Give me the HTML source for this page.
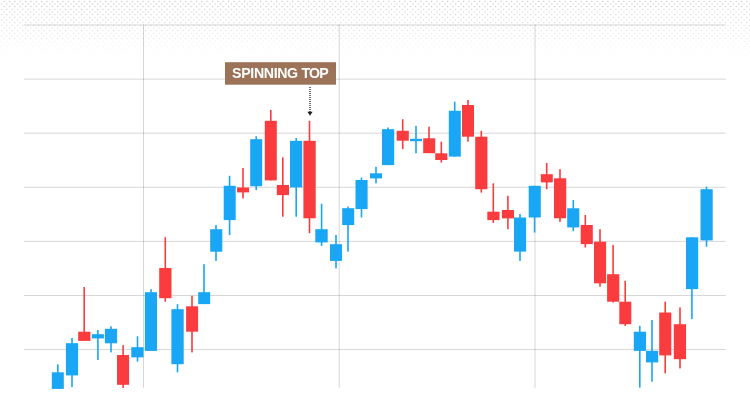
<!DOCTYPE html>
<html lang="en"><head><meta charset="utf-8"><title>Spinning Top</title>
<style>
html,body{margin:0;padding:0;background:#fff;}
body{width:750px;height:414px;overflow:hidden;position:relative;}
svg{position:absolute;left:0;top:0;display:block;}
.lbl{font-family:"Liberation Sans",sans-serif;font-weight:bold;font-size:14.2px;fill:#fff;letter-spacing:-0.27px;}
</style></head><body>
<svg width="750" height="414" viewBox="0 0 750 414">
<defs>
<pattern id="dots" x="0" y="0" width="5.343" height="5.343" patternUnits="userSpaceOnUse">
<circle cx="4.2" cy="1.35" r="0.62" fill="#b4b4b4"/>
<circle cx="1.53" cy="4.02" r="0.62" fill="#b4b4b4"/>
</pattern>
<linearGradient id="fade" x1="0" y1="0" x2="0" y2="1">
<stop offset="0" stop-color="#fff" stop-opacity="1"/>
<stop offset="1" stop-color="#fff" stop-opacity="0"/>
</linearGradient>
<mask id="m"><rect x="0" y="0" width="750" height="57" fill="url(#fade)"/></mask>
</defs>
<rect x="0" y="0" width="750" height="62" fill="url(#dots)" mask="url(#m)"/>

<g fill="#000" fill-opacity="0.16">
<rect x="24" y="24.50" width="701.8" height="1"/>
<rect x="24" y="78.59" width="701.8" height="1"/>
<rect x="24" y="132.68" width="701.8" height="1"/>
<rect x="24" y="186.77" width="701.8" height="1"/>
<rect x="24" y="240.86" width="701.8" height="1"/>
<rect x="24" y="294.95" width="701.8" height="1"/>
<rect x="24" y="349.04" width="701.8" height="1"/>
<rect x="143.00" y="24.5" width="1" height="363.2"/>
<rect x="338.70" y="24.5" width="1" height="363.2"/>
<rect x="534.50" y="24.5" width="1" height="363.2"/>
</g>
<g fill="#18a6f5"><rect x="57.00" y="364.30" width="1.60" height="24.60"/><rect x="51.80" y="372.30" width="12.00" height="16.60"/></g>
<g fill="#18a6f5"><rect x="71.20" y="338.00" width="1.60" height="49.10"/><rect x="65.90" y="343.20" width="12.20" height="32.20"/></g>
<g fill="#fa3c3e"><rect x="83.40" y="287.00" width="1.60" height="53.40"/><rect x="78.20" y="331.70" width="12.20" height="9.20"/></g>
<g fill="#18a6f5"><rect x="97.10" y="330.00" width="1.60" height="30.00"/><rect x="91.80" y="334.20" width="12.10" height="4.20"/></g>
<g fill="#18a6f5"><rect x="110.20" y="326.30" width="1.60" height="26.10"/><rect x="104.90" y="328.80" width="12.20" height="14.50"/></g>
<g fill="#fa3c3e"><rect x="122.30" y="345.20" width="1.60" height="42.80"/><rect x="117.00" y="355.00" width="12.10" height="29.80"/></g>
<g fill="#18a6f5"><rect x="136.70" y="336.30" width="1.60" height="25.40"/><rect x="131.30" y="347.20" width="12.20" height="10.20"/></g>
<g fill="#18a6f5"><rect x="150.20" y="289.20" width="1.60" height="61.20"/><rect x="144.90" y="292.20" width="12.10" height="58.70"/></g>
<g fill="#fa3c3e"><rect x="164.50" y="237.20" width="1.60" height="64.50"/><rect x="159.20" y="268.00" width="12.30" height="30.20"/></g>
<g fill="#18a6f5"><rect x="176.70" y="304.20" width="1.60" height="68.20"/><rect x="171.40" y="309.20" width="12.30" height="55.00"/></g>
<g fill="#fa3c3e"><rect x="191.20" y="295.80" width="1.60" height="56.60"/><rect x="186.10" y="306.30" width="12.00" height="25.40"/></g>
<g fill="#18a6f5"><rect x="203.20" y="264.20" width="1.60" height="39.20"/><rect x="198.20" y="292.20" width="12.00" height="11.90"/></g>
<g fill="#18a6f5"><rect x="215.20" y="225.00" width="1.60" height="35.90"/><rect x="210.20" y="229.20" width="12.10" height="22.50"/></g>
<g fill="#18a6f5"><rect x="228.80" y="175.80" width="1.60" height="59.30"/><rect x="223.70" y="185.80" width="12.00" height="34.30"/></g>
<g fill="#fa3c3e"><rect x="242.20" y="168.00" width="1.60" height="30.40"/><rect x="237.00" y="187.50" width="12.00" height="4.90"/></g>
<g fill="#18a6f5"><rect x="255.40" y="136.30" width="1.60" height="53.80"/><rect x="250.20" y="139.20" width="12.00" height="47.00"/></g>
<g fill="#fa3c3e"><rect x="270.00" y="110.00" width="1.60" height="70.40"/><rect x="264.80" y="120.80" width="12.00" height="59.60"/></g>
<g fill="#fa3c3e"><rect x="282.00" y="157.30" width="1.60" height="59.40"/><rect x="276.80" y="185.00" width="12.20" height="10.10"/></g>
<g fill="#18a6f5"><rect x="295.40" y="138.00" width="1.60" height="78.70"/><rect x="290.00" y="140.80" width="12.20" height="46.60"/></g>
<g fill="#fa3c3e"><rect x="308.70" y="120.80" width="1.60" height="112.40"/><rect x="303.40" y="140.80" width="12.30" height="77.50"/></g>
<g fill="#18a6f5"><rect x="320.80" y="203.80" width="1.60" height="42.10"/><rect x="315.30" y="229.20" width="12.40" height="13.20"/></g>
<g fill="#18a6f5"><rect x="335.20" y="235.00" width="1.60" height="33.40"/><rect x="330.00" y="244.20" width="12.00" height="16.70"/></g>
<g fill="#18a6f5"><rect x="347.20" y="206.50" width="1.60" height="45.20"/><rect x="342.20" y="208.20" width="12.00" height="16.90"/></g>
<g fill="#18a6f5"><rect x="360.70" y="177.50" width="1.60" height="40.00"/><rect x="355.50" y="180.00" width="12.10" height="29.10"/></g>
<g fill="#18a6f5"><rect x="375.20" y="166.70" width="1.60" height="16.70"/><rect x="370.00" y="173.30" width="12.00" height="5.10"/></g>
<g fill="#18a6f5"><rect x="387.20" y="127.50" width="1.60" height="36.90"/><rect x="382.00" y="129.20" width="12.20" height="35.90"/></g>
<g fill="#fa3c3e"><rect x="401.90" y="119.20" width="1.60" height="29.90"/><rect x="396.70" y="130.80" width="12.10" height="9.90"/></g>
<g fill="#18a6f5"><rect x="415.20" y="125.80" width="1.60" height="27.60"/><rect x="410.00" y="138.80" width="12.00" height="2.40"/></g>
<g fill="#fa3c3e"><rect x="428.20" y="126.70" width="1.60" height="25.70"/><rect x="423.20" y="138.30" width="12.00" height="14.90"/></g>
<g fill="#fa3c3e"><rect x="440.50" y="141.70" width="1.60" height="20.80"/><rect x="435.20" y="153.30" width="12.20" height="6.70"/></g>
<g fill="#18a6f5"><rect x="453.90" y="101.70" width="1.60" height="54.70"/><rect x="448.80" y="110.80" width="12.00" height="45.80"/></g>
<g fill="#fa3c3e"><rect x="467.20" y="100.00" width="1.60" height="41.70"/><rect x="462.00" y="105.00" width="12.00" height="31.70"/></g>
<g fill="#fa3c3e"><rect x="480.50" y="130.80" width="1.60" height="61.80"/><rect x="475.20" y="136.70" width="12.20" height="52.50"/></g>
<g fill="#fa3c3e"><rect x="492.50" y="183.30" width="1.60" height="39.70"/><rect x="487.30" y="211.70" width="12.20" height="8.40"/></g>
<g fill="#fa3c3e"><rect x="507.10" y="195.80" width="1.60" height="33.40"/><rect x="501.90" y="210.00" width="12.10" height="8.40"/></g>
<g fill="#18a6f5"><rect x="519.20" y="214.00" width="1.60" height="46.90"/><rect x="514.00" y="217.50" width="12.10" height="34.10"/></g>
<g fill="#18a6f5"><rect x="533.80" y="185.80" width="1.60" height="46.80"/><rect x="528.70" y="185.80" width="12.10" height="31.70"/></g>
<g fill="#fa3c3e"><rect x="545.90" y="163.00" width="1.60" height="26.20"/><rect x="540.80" y="174.20" width="12.00" height="8.20"/></g>
<g fill="#fa3c3e"><rect x="559.20" y="169.20" width="1.60" height="52.70"/><rect x="554.00" y="178.30" width="12.20" height="40.00"/></g>
<g fill="#18a6f5"><rect x="572.50" y="200.00" width="1.60" height="31.20"/><rect x="567.20" y="208.30" width="12.10" height="19.10"/></g>
<g fill="#fa3c3e"><rect x="584.50" y="215.00" width="1.60" height="32.50"/><rect x="580.70" y="225.00" width="12.10" height="19.10"/></g>
<g fill="#fa3c3e"><rect x="599.20" y="229.20" width="1.60" height="57.50"/><rect x="594.00" y="241.70" width="12.10" height="41.60"/></g>
<g fill="#fa3c3e"><rect x="612.30" y="245.00" width="1.60" height="57.60"/><rect x="607.10" y="274.20" width="12.20" height="27.50"/></g>
<g fill="#fa3c3e"><rect x="624.40" y="280.80" width="1.60" height="45.10"/><rect x="619.30" y="301.70" width="12.00" height="22.50"/></g>
<g fill="#18a6f5"><rect x="639.00" y="325.80" width="1.60" height="61.80"/><rect x="633.80" y="331.70" width="12.20" height="19.20"/></g>
<g fill="#18a6f5"><rect x="651.20" y="320.00" width="1.60" height="61.70"/><rect x="646.00" y="350.80" width="12.20" height="11.60"/></g>
<g fill="#fa3c3e"><rect x="664.40" y="301.70" width="1.60" height="71.70"/><rect x="659.20" y="312.50" width="12.10" height="42.90"/></g>
<g fill="#fa3c3e"><rect x="679.20" y="307.50" width="1.60" height="60.90"/><rect x="673.80" y="324.20" width="12.20" height="35.00"/></g>
<g fill="#18a6f5"><rect x="691.10" y="237.30" width="1.60" height="81.80"/><rect x="686.00" y="237.30" width="12.20" height="51.80"/></g>
<g fill="#18a6f5"><rect x="705.70" y="186.70" width="1.60" height="60.00"/><rect x="700.50" y="189.20" width="12.20" height="51.20"/></g>
<rect x="225" y="62.2" width="111" height="22.5" fill="#9c7358"/>
<text class="lbl" x="232.1" y="78.3"><tspan letter-spacing="-0.36">SPINNING</tspan><tspan x="301.4" letter-spacing="-0.8">TOP</tspan></text>
<line x1="310" y1="87" x2="310" y2="111.9" stroke="#333" stroke-width="1.4" stroke-dasharray="1 1"/>
<path d="M307.4 111.7 L312.6 111.7 L310 115.7 Z" fill="#222"/>
</svg></body></html>
